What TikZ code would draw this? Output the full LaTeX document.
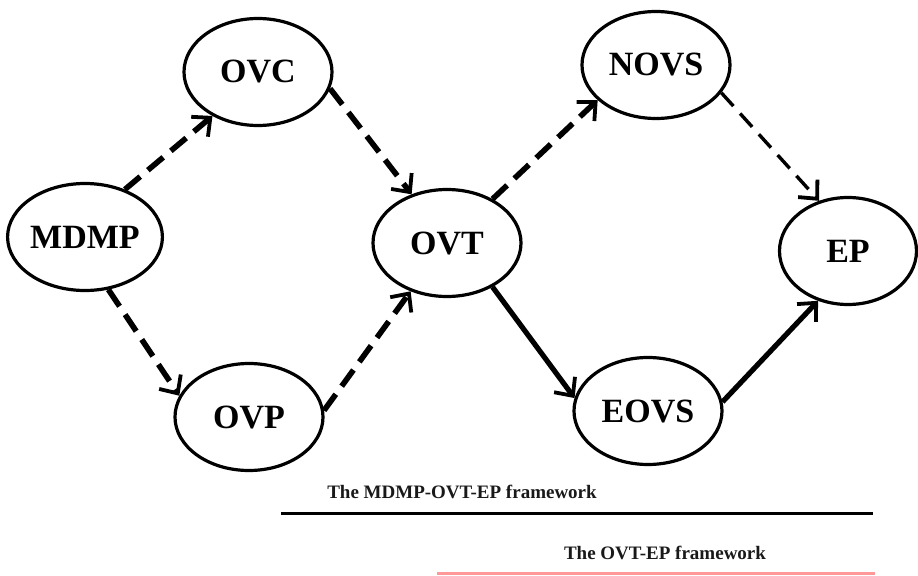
\documentclass[tikz,border=0pt]{standalone}
\usepackage{fontspec}
\setmainfont{Liberation Serif}
\usetikzlibrary{arrows.meta, shapes.geometric}

\begin{document}
\begin{tikzpicture}[x=0.5pt, y=0.5pt, font=\bfseries\fontsize{17}{20}\selectfont,
	stage/.style={ellipse, draw, line width=1.6pt, minimum width=74pt, minimum height=53.5pt, inner sep=0pt},
	flow/.style={line width=2.6pt, -{Straight Barb[length=7pt, width=13pt, line width=1.9pt]}},
	maybe/.style={flow, line width=2.8pt, dash pattern=on 10pt off 5pt},
	weak/.style={flow, line width=1.7pt, dash pattern=on 9pt off 5pt},
	caption/.style={font=\bfseries\fontsize{9.5}{11}\selectfont, text=black!90},
	rule/.style={line width=1.5pt}]
		\useasboundingbox (0,0) rectangle (918,575);
		\node[stage] (MDMP) at (85,338) {MDMP};
		\node[stage] (OVC) at (258,503) {OVC}; \node[stage] (OVP) at (249,158) {OVP};
		\node[stage] (OVT) at (447,332) {OVT};
		\node[stage] (NOVS) at (656,510) {NOVS}; \node[stage] (EOVS) at (648,164) {EOVS};
		\node[stage, minimum width=68.5pt] (EP) at (848,324) {EP};
		% the two ways through the diagram
		\draw[maybe] (MDMP.50) -- (OVC.224); \draw[maybe] (MDMP.-66) -- (OVP.163);
		\draw[maybe] (OVC.-13) -- (OVT.126); \draw[maybe] (OVP.5) -- (OVT.233);
		\draw[maybe] (OVT.44) -- (NOVS.211); \draw[weak] (NOVS.-23) -- (EP.120);
		\draw[flow] (OVT.-44) -- (EOVS.170); \draw[flow] (EOVS.7) -- (EP.239);
		% captions under the diagram
		\node[caption] (whole) at (462,83) {The MDMP-OVT-EP framework};
		\coordinate (wholeL) at (281,62); \coordinate (wholeR) at (873,62);
		\draw[rule] (wholeL) -- (wholeR);
		\node[caption] (part) at (665,22) {The OVT-EP framework};
		\coordinate (partL) at (437,2); \coordinate (partR) at (875,2);
		\draw[rule, draw=red!40] (partL) -- (partR);
	\end{tikzpicture}
\end{document}
